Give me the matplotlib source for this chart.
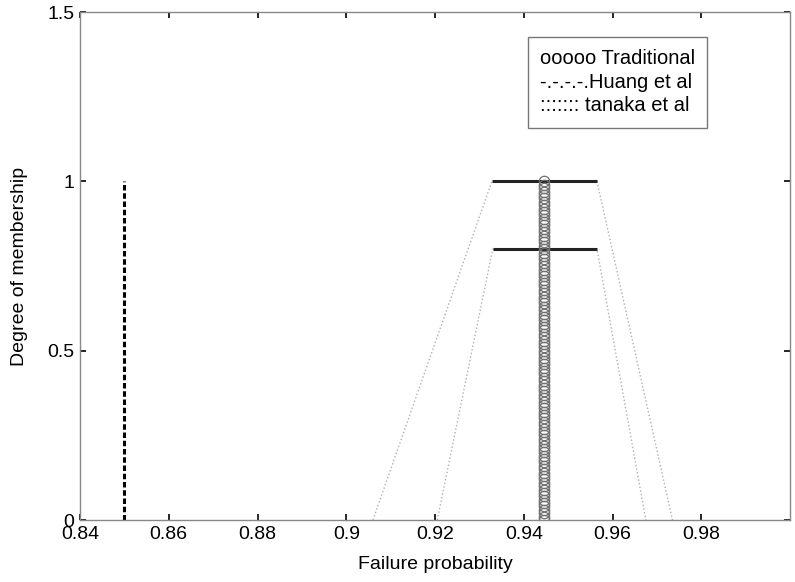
import numpy as np
import matplotlib
matplotlib.use("Agg")
import matplotlib.pyplot as plt

plt.rcParams['font.family'] = ['Liberation Sans', 'DejaVu Sans']

# --- data ---
x_ticks = [0.84, 0.86, 0.88, 0.90, 0.92, 0.94, 0.96, 0.98]
x_tick_labels = ['0.84', '0.86', '0.88', '0.9', '0.92', '0.94', '0.96', '0.98']
y_ticks = [0, 0.5, 1, 1.5]
y_tick_labels = ['0', '0.5', '1', '1.5']

# crisp value (dashed vertical)
crisp_x = [0.85, 0.85]
crisp_y = [0, 1]

# traditional: alpha cuts all at the same point
trad_value = 0.9445
alpha_levels = np.linspace(0, 1, 101)

# outer trapezoid (tanaka et al)
outer_x = [0.906, 0.9328, 0.9565, 0.9735]
outer_y = [0, 1, 1, 0]
# inner trapezoid (Huang et al)
inner_x = [0.9205, 0.9330, 0.9565, 0.9675]
inner_y = [0, 0.8, 0.8, 0]

# solid horizontal cuts
cut_levels = [1.0, 0.8]
cut_left = [0.9328, 0.9330]
cut_right = [0.9565, 0.9565]

fig = plt.figure(figsize=(7.95, 5.82), dpi=100)
ax = fig.add_axes([0.1006, 0.1065, 0.8932, 0.8725])

ax.plot(outer_x, outer_y, linestyle=':', color='#b0b0b0', linewidth=1.0)
ax.plot(inner_x, inner_y, linestyle=':', color='#b0b0b0', linewidth=1.0)

for lev, xl, xr in zip(cut_levels, cut_left, cut_right):
    ax.plot([xl, xr], [lev, lev], color='#222222', linewidth=2.2, solid_capstyle='butt')

ax.plot(np.full_like(alpha_levels, trad_value), alpha_levels, linestyle='none',
        marker='o', markersize=7.5, markerfacecolor='none', markeredgecolor='#707070',
        markeredgewidth=0.9)

ax.plot(crisp_x, crisp_y, linestyle=(0, (1.8, 0.9)), color='black', linewidth=2.2)

ax.set_xlim(0.84, 1.0)
ax.set_ylim(0, 1.5)
ax.set_xticks(x_ticks)
ax.set_xticklabels(x_tick_labels)
ax.set_yticks(y_ticks)
ax.set_yticklabels(y_tick_labels)
ax.tick_params(direction='in', length=4, width=1.2, top=True, right=True,
               labelsize=14, colors='black', pad=4)
for s in ax.spines.values():
    s.set_color('#888888')
    s.set_linewidth(1.0)

ax.set_xlabel('Failure probability', fontsize=14, labelpad=10)
ax.set_ylabel('Degree of membership', fontsize=14, labelpad=14)

# legend drawn as a text box, like the original figure
box_text = 'ooooo Traditional\n-.-.-.-.Huang et al\n::::::: tanaka et al'
ax.text(0.9437, 1.39, box_text, fontsize=14.5, va='top', ha='left', linespacing=1.3,
        bbox=dict(boxstyle='square,pad=0.6', facecolor='white', edgecolor='#777777',
                  linewidth=1.0))

fig.savefig('out.png', dpi=100)
